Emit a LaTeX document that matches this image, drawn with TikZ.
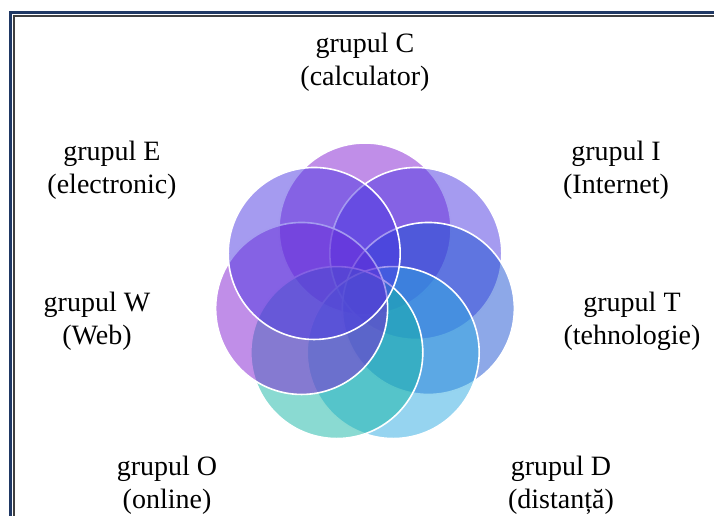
\documentclass[tikz,border=0pt]{standalone}
\usepackage{fontspec}
\setmainfont{Liberation Serif}
\usepackage{tikz}
\definecolor{frameblue}{RGB}{31,56,100}
\definecolor{ringpurple}{RGB}{129,29,209}
\definecolor{ringviolet}{RGB}{75,55,225}
\definecolor{ringblue}{RGB}{27,81,209}
\definecolor{ringsky}{RGB}{45,169,225}
\definecolor{ringteal}{RGB}{21,181,165}

\begin{document}
\begin{tikzpicture}[
    x=1pt, y=1pt,
    every node/.style={font=\fontsize{28}{33}\selectfont},
    ring/.style={circle, minimum size=172pt, inner sep=0pt, draw=white, line width=1.6pt, fill opacity=0.5},
    grouplabel/.style={align=center, text=black, inner sep=0pt}
]
\useasboundingbox (0,0) rectangle (714,516);
% frame
\draw[frameblue, line width=3pt] (10.5,0) -- (10.5,503.5) -- (714,503.5);
\draw[black!75, line width=1.5pt] (13.75,0) -- (13.75,500) -- (714,500);

% rings, drawn clockwise from the top
\coordinate (ctr) at (365,222);
\node (ringC) [ring, fill=ringpurple] at ([shift={(90:65)}]ctr) {};
\node (ringI) [ring, fill=ringviolet] at ([shift={(38.57:65)}]ctr) {};
\node (ringT) [ring, fill=ringblue] at ([shift={(-12.86:65)}]ctr) {};
\node (ringD) [ring, fill=ringsky] at ([shift={(-64.29:65)}]ctr) {};
\node (ringO) [ring, fill=ringteal] at ([shift={(-115.71:65)}]ctr) {};
\node (ringW) [ring, fill=ringpurple] at ([shift={(-167.14:65)}]ctr) {};
\node (ringE) [ring, fill=ringviolet] at ([shift={(141.43:65)}]ctr) {};

% labels
\node (labC) [grouplabel] at (365,454) {grupul C\\(calculator)};
\node (labI) [grouplabel] at (616,346) {grupul I\\(Internet)};
\node (labT) [grouplabel] at (632,195) {grupul T\\(tehnologie)};
\node (labD) [grouplabel] at (561,31) {grupul D\\(distanță)};
\node (labO) [grouplabel] at (167,31) {grupul O\\(online)};
\node (labW) [grouplabel] at (97,195) {grupul W\\(Web)};
\node (labE) [grouplabel] at (112,346) {grupul E\\(electronic)};
\end{tikzpicture}
\end{document}
